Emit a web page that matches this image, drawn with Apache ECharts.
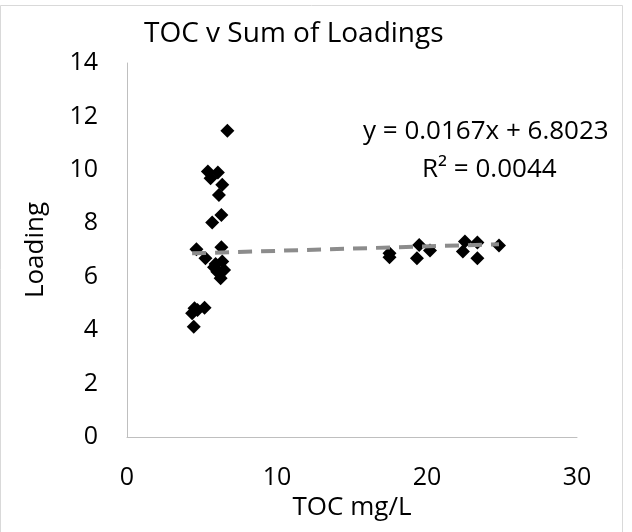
<!DOCTYPE html>
<html>
<head>
<meta charset="utf-8">
<script src="https://cdn.jsdelivr.net/npm/echarts@6/dist/echarts.min.js"></script>
<style>
  html, body { margin: 0; padding: 0; background: #fff; }
  #chart { width: 632px; height: 532px; }
</style>
</head>
<body>
<div id="chart"></div>
<script>
// TOC (mg/L) vs sum of loadings
const tocValues = [
  6.69, 5.39, 6.06, 5.57, 6.35, 6.13, 6.29, 5.68, 4.63, 6.29,
  5.23, 5.91, 6.35, 6.47, 6.02, 6.24, 5.80, 4.50, 5.17, 4.70,
  4.34, 4.45,
  17.5, 17.5, 19.48, 19.33, 20.2, 22.53, 22.39, 23.36, 23.36, 24.8
];
const loadingValues = [
  11.46, 9.94, 9.90, 9.69, 9.44, 9.06, 8.31, 8.03, 7.03, 7.10,
  6.69, 6.48, 6.57, 6.25, 6.19, 5.94, 6.35, 4.82, 4.84, 4.75,
  4.63, 4.13,
  6.88, 6.73, 7.19, 6.69, 6.98, 7.32, 6.94, 7.28, 6.69, 7.17
];
const slope = 0.0167;
const intercept = 6.8023;
const xTicks = [0, 10, 20, 30];

const points = tocValues.map((x, i) => [x, loadingValues[i]]);
const xMin = Math.min(...tocValues);
const xMax = Math.max(...tocValues);
const trend = [[xMin, slope * xMin + intercept], [xMax, slope * xMax + intercept]];

const font = '"Open Sans", sans-serif';
const chart = echarts.init(document.getElementById('chart'));

chart.setOption({
  animation: false,
  backgroundColor: '#fff',
  title: {
    text: 'TOC v Sum of Loadings',
    left: 139,
    top: 15,
    textStyle: { fontFamily: font, fontSize: 28, fontWeight: 'normal', color: '#000' }
  },
  grid: { left: 127, right: 55, top: 63, bottom: 95 },
  xAxis: {
    type: 'value',
    min: xTicks[0],
    max: xTicks[xTicks.length - 1],
    interval: 10,
    name: 'TOC mg/L',
    nameLocation: 'middle',
    nameGap: 58,
    nameTextStyle: { fontFamily: font, fontSize: 26, color: '#000' },
    axisLine: { lineStyle: { color: '#bfbfbf', width: 1 } },
    axisTick: { show: false },
    axisLabel: { fontFamily: font, fontSize: 25, color: '#000', margin: 28 },
    splitLine: { show: false }
  },
  yAxis: {
    type: 'value',
    min: 0,
    max: 14,
    interval: 2,
    name: 'Loading',
    nameLocation: 'middle',
    nameGap: 78,
    nameTextStyle: { fontFamily: font, fontSize: 26, color: '#000' },
    axisLine: { show: true, lineStyle: { color: '#bfbfbf', width: 1 } },
    axisTick: { show: false },
    axisLabel: { fontFamily: font, fontSize: 25, color: '#000', margin: 29 },
    splitLine: { show: false }
  },
  series: [
    {
      type: 'line',
      data: trend,
      symbol: 'none',
      lineStyle: { color: '#8c8c8c', width: 4, type: [14, 9] },
      z: 3
    },
    {
      type: 'scatter',
      data: points,
      symbol: 'diamond',
      symbolSize: 14,
      itemStyle: { color: '#000', opacity: 1 },
      z: 2
    }
  ],
  graphic: [
    {
      type: 'rect',
      shape: { x: 0.5, y: 5.5, width: 622, height: 530 },
      style: { fill: 'none', stroke: '#d9d9d9', lineWidth: 1 },
      silent: true
    },
    {
      type: 'text',
      left: 363,
      top: 119,
      style: {
        text: 'y = 0.0167x + 6.8023',
        font: '26px ' + font,
        fill: '#000'
      }
    },
    {
      type: 'text',
      left: 422,
      top: 157,
      style: {
        text: 'R² = 0.0044',
        font: '26px ' + font,
        fill: '#000'
      }
    }
  ]
});
</script>
</body>
</html>
